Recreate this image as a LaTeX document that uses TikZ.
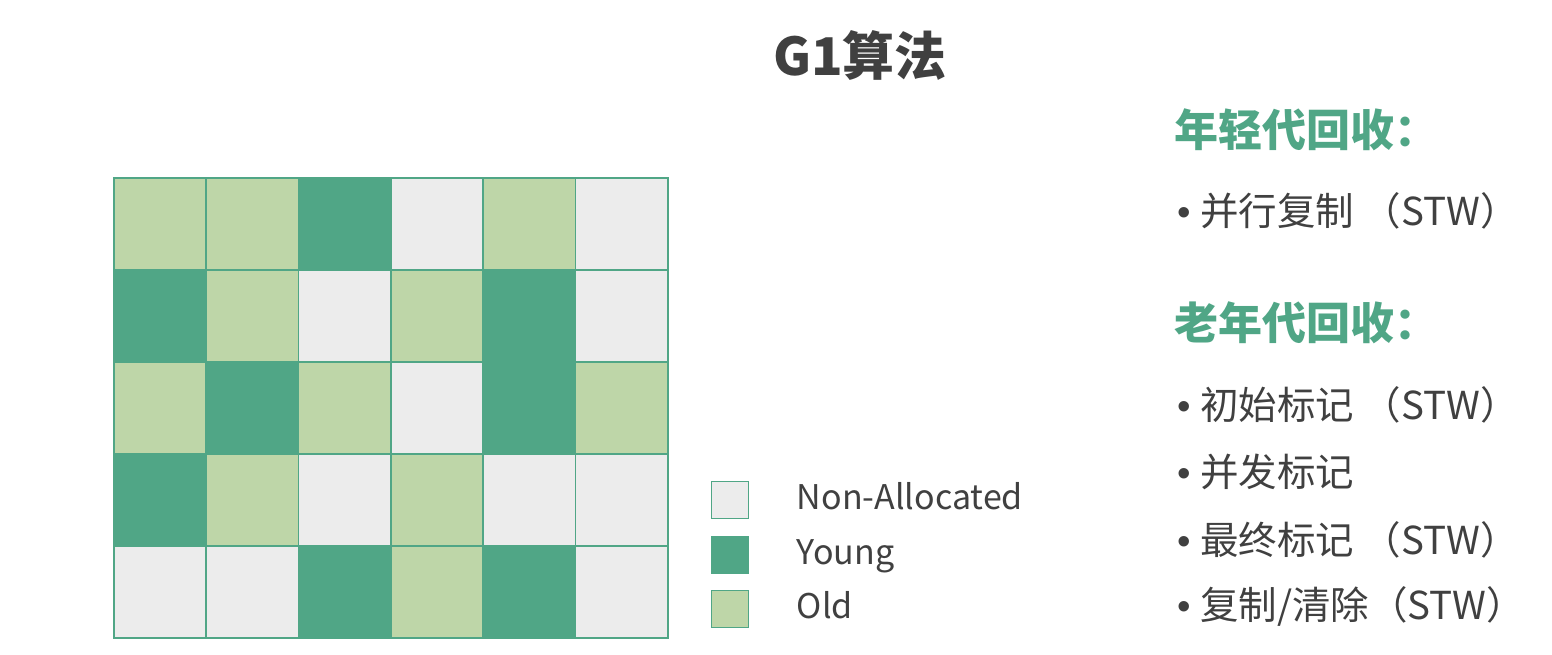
\documentclass[tikz,border=0pt]{standalone}
\usepackage{fontspec}
\setmainfont{Noto Sans CJK SC}
\newfontfamily\dotfont{Liberation Sans}
\usetikzlibrary{positioning}
\definecolor{gY}{RGB}{80,166,134}
\definecolor{gO}{RGB}{190,214,168}
\definecolor{gF}{RGB}{236,236,236}
\definecolor{gInk}{RGB}{64,64,64}
\newcommand{\bul}{{\dotfont •}\hspace{9pt}}

\begin{document}
\begin{tikzpicture}[
		x=1pt,y=-1pt,
		cell/.style={
			draw=gY,line width=1.6pt,inner sep=0pt,anchor=north west,
			minimum width=92.33pt,minimum height=92pt
		},
		key/.style={
			draw=gY,line width=1.6pt,inner sep=0pt,minimum size=37pt
		},
		keytxt/.style={font=\fontsize{34}{40}\selectfont,text=gInk,
			text height=24pt,text depth=0pt,right=44pt of #1,yshift=3pt},
		head/.style={font=\fontsize{44}{50}\selectfont\bfseries,text=gY,anchor=west},
		item/.style={font=\fontsize{38.5}{44}\selectfont,text=gInk,anchor=west}
		]
		\useasboundingbox (0,0) rectangle (1552,654);

		% title
		\node[font=\fontsize{52}{60}\selectfont\bfseries,text=gInk] (title) at (860,55) {G1算法};

		% heap regions
		\foreach \row/\kinds in {1/{O,O,Y,F,O,F},2/{Y,O,F,O,Y,F},3/{O,Y,O,F,Y,O},
			4/{Y,O,F,O,F,F},5/{F,F,Y,O,Y,F}}{
			\foreach \k [count=\col] in \kinds
				\node[cell,fill=g\k] (c\row-\col) at ({113+(\col-1)*92.33},{177+(\row-1)*92}) {};
		}

		% legend
		\node[key,fill=gF] (kF) at (730,500) {};
		\node[key,fill=gY] (kY) at (730,555) {};
		\node[key,fill=gO] (kO) at (730,609) {};
		\node[keytxt=kF] (tF) {Non-Allocated};
		\node[keytxt=kY] (tY) {Young};
		\node[keytxt=kO] (tO) {Old};

		% collection phases
		\node[head] (hYoung) at (1171,130) {年轻代回收：};
		\node[item] (iCopy) at (1174,211) {\bul 并行复制 （STW）};
		\node[head] (hOld) at (1171,323) {老年代回收：};
		\node[item] (iInit) at (1174,405) {\bul 初始标记 （STW）};
		\node[item] (iConc) at (1174,472) {\bul 并发标记};
		\node[item] (iFinal) at (1174,540) {\bul 最终标记 （STW）};
		\node[item] (iClean) at (1174,606) {\bul 复制/清除（STW）};
	\end{tikzpicture}
\end{document}
